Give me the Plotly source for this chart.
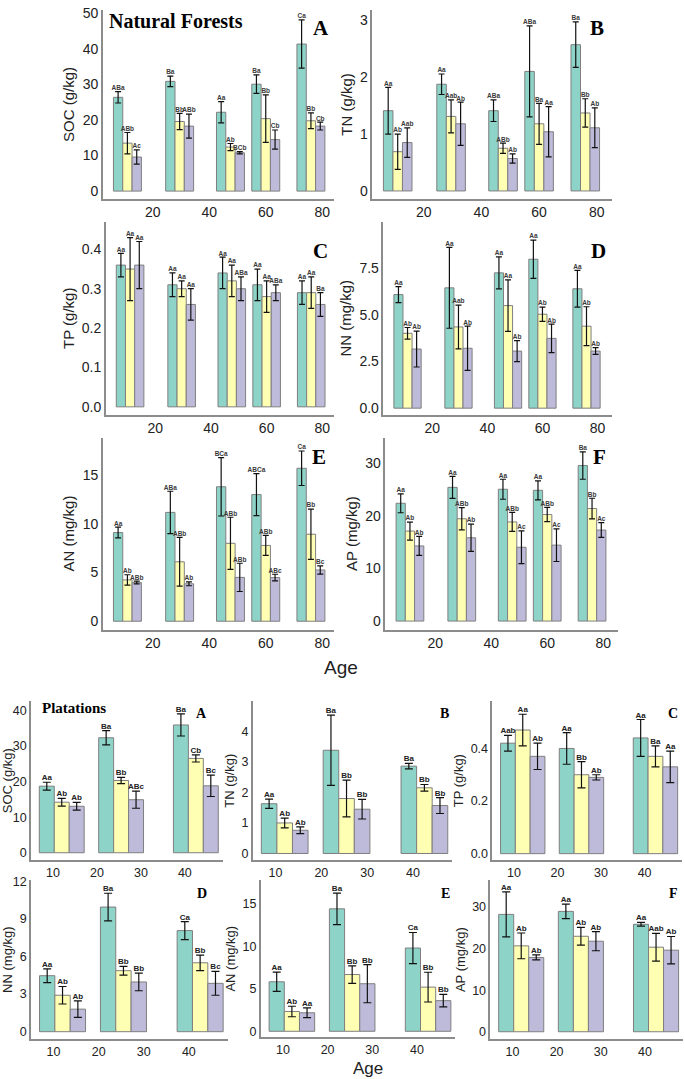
import plotly.graph_objects as go

W, H = 685, 1079

# treatment colours (ggplot Set3 style)
colors = ["#8dd3c7", "#ffffb3", "#bebada"]

# ---------------- Natural forests ----------------
nf_age = [11, 29.5, 47.5, 60, 76]
nf_ticks = [20, 40, 60, 80]

nf_soc = [[26.4, 30.9, 22.2, 30.1, 41.4], [13.5, 19.6, 12.4, 20.4, 19.8], [9.6, 18.3, 10.8, 14.5, 18.3]]
nf_soc_sd = [[1.6, 1.5, 3.0, 2.6, 6.8], [3.0, 2.3, 1.0, 6.7, 2.2], [2.0, 3.4, 0.3, 2.7, 1.1]]
nf_soc_lab = [["ABa", "Ba", "Aa", "Ba", "Ca"], ["ABb", "Bb", "Ab", "Bb", "Bb"], ["Ac", "ABb", "BCb", "Cb", "Cb"]]

nf_tn = [[1.41, 1.875, 1.41, 2.1, 2.57], [0.69, 1.31, 0.75, 1.18, 1.37], [0.85, 1.18, 0.57, 1.04, 1.11]]
nf_tn_sd = [[0.41, 0.18, 0.19, 0.8, 0.4], [0.31, 0.29, 0.09, 0.36, 0.25], [0.26, 0.38, 0.08, 0.44, 0.35]]
nf_tn_lab = [["Aa", "Aa", "ABa", "ABa", "Ba"], ["Ab", "Aab", "ABb", "Ba", "Bb"], ["Aab", "Ab", "Ab", "Aa", "Ab"]]

nf_tp = [[0.36, 0.31, 0.34, 0.31, 0.29], [0.35, 0.30, 0.32, 0.28, 0.29], [0.36, 0.26, 0.30, 0.29, 0.26]]
nf_tp_sd = [[0.03, 0.03, 0.04, 0.04, 0.03], [0.08, 0.02, 0.04, 0.04, 0.04], [0.06, 0.04, 0.03, 0.02, 0.03]]
nf_tp_lab = [["Aa", "Aa", "Aa", "Aa", "Aa"], ["Aa", "Aa", "Aa", "Aa", "Aa"], ["Aa", "Aa", "ABa", "ABa", "Ba"]]

nf_nn = [[6.07, 6.43, 7.23, 7.96, 6.38], [4.0, 4.34, 5.48, 5.02, 4.38], [3.16, 3.2, 3.05, 3.73, 3.05]]
nf_nn_sd = [[0.43, 2.16, 0.86, 1.02, 0.98], [0.31, 1.17, 1.38, 0.38, 1.04], [0.96, 1.18, 0.56, 0.76, 0.18]]
nf_nn_lab = [["Aa", "Aa", "Aa", "Aa", "Aa"], ["Ab", "Aab", "Aa", "Ab", "Ab"], ["Ab", "Ab", "Ab", "Ab", "Ab"]]

nf_an = [[9.1, 11.17, 13.8, 13.0, 15.7], [4.24, 6.1, 8.0, 7.78, 8.93], [3.97, 3.84, 4.5, 4.48, 5.26]]
nf_an_sd = [[0.55, 2.17, 3.0, 2.16, 1.77], [0.53, 2.5, 2.67, 1.03, 2.58], [0.14, 0.2, 1.45, 0.34, 0.43]]
nf_an_lab = [["Aa", "ABa", "BCa", "ABCa", "Ca"], ["Ab", "ABb", "ABb", "ABb", "Bb"], ["ABb", "Ab", "ABb", "ABc", "Bc"]]

nf_ap = [[22.34, 25.36, 25.0, 24.8, 29.5], [17.07, 19.4, 18.8, 20.2, 21.34], [14.25, 15.8, 14.0, 14.4, 17.26]]
nf_ap_sd = [[1.8, 2.1, 1.9, 1.8, 2.6], [1.7, 2.1, 1.8, 1.35, 1.95], [1.8, 2.6, 3.1, 3.1, 1.4]]
nf_ap_lab = [["Aa", "Aa", "Aa", "Aa", "Ba"], ["Ab", "ABb", "ABb", "ABb", "Bb"], ["Ab", "Ab", "Ac", "Ac", "Ac"]]

# ---------------- Plantations ----------------
pl_age = [12, 25.5, 42.5]
pl_ticks = [10, 20, 30, 40]

pl_soc = [[18.7, 32.3, 35.9], [14.2, 20.3, 26.5], [13.05, 14.9, 18.8]]
pl_soc_sd = [[1.1, 2.0, 3.1], [1.1, 0.9, 1.0], [1.1, 2.4, 3.0]]
pl_soc_lab = [["Aa", "Ba", "Ba"], ["Ab", "Bb", "Cb"], ["Ab", "ABc", "Bc"]]

pl_tn = [[1.63, 3.38, 2.86], [1.0, 1.8, 2.15], [0.76, 1.45, 1.57]]
pl_tn_sd = [[0.15, 1.15, 0.09], [0.16, 0.6, 0.11], [0.11, 0.32, 0.26]]
pl_tn_lab = [["Aa", "Ba", "Ba"], ["Ab", "Bb", "Bb"], ["Ab", "Bb", "Bb"]]

pl_tp = [[0.42, 0.40, 0.44], [0.47, 0.30, 0.37], [0.37, 0.29, 0.33]]
pl_tp_sd = [[0.03, 0.06, 0.07], [0.06, 0.05, 0.04], [0.05, 0.01, 0.06]]
pl_tp_lab = [["Aab", "Aa", "Aa"], ["Aa", "Bb", "Ba"], ["Ab", "Ab", "Aa"]]

pl_nn = [[4.47, 9.95, 8.07], [2.91, 4.87, 5.5], [1.8, 3.97, 3.86]]
pl_nn_sd = [[0.55, 1.1, 0.72], [0.7, 0.35, 0.62], [0.66, 0.7, 0.95]]
pl_nn_lab = [["Aa", "Ba", "Ca"], ["Ab", "Bb", "Bb"], ["Ab", "Bb", "Bc"]]

pl_an = [[5.83, 14.42, 9.8], [2.33, 6.68, 5.2], [2.18, 5.6, 3.61]]
pl_an_sd = [[1.13, 1.85, 1.83], [0.62, 1.03, 1.75], [0.58, 2.24, 0.73]]
pl_an_lab = [["Aa", "Ba", "Ca"], ["Ab", "Bb", "Bb"], ["Aa", "Bb", "Bb"]]

pl_ap = [[28.25, 28.97, 25.86], [20.67, 22.98, 20.35], [17.88, 21.79, 19.63]]
pl_ap_sd = [[5.4, 1.75, 0.45], [3.1, 2.15, 3.35], [0.6, 2.3, 3.3]]
pl_ap_lab = [["Aa", "Aa", "Aa"], ["Ab", "Ab", "Aab"], ["Ab", "Ab", "Ab"]]


def xdom(a, b):
    return [a / W, b / W]


def ydom(top, bottom):
    return [1 - bottom / H, 1 - top / H]


fig = go.Figure()
layout = {}
n = 0


def note(x, y, text, size, family="Liberation Sans", xanchor="center", color="black"):
    fig.add_annotation(x=x / W, y=1 - y / H, xref="paper", yref="paper",
                       xanchor=xanchor, yanchor="middle", text=text, showarrow=False,
                       font=dict(family=family, size=size, color=color))


def panel(ages, means, sds, labels, xd, yd, xr, yr, yticks, ytitle, xticks,
          letter, lpos, big=True, yfmt=None):
    global n
    n += 1
    xa, ya = "x%d" % n, "y%d" % n
    w = 3.3 if big else 3.4
    for i in range(3):
        fig.add_trace(go.Bar(
            x=ages, y=means[i], width=w, offset=(i - 1.5) * w,
            marker=dict(color=colors[i], line=dict(color="#7f7f7f", width=1)),
            error_y=dict(type="data", array=sds[i], color="#111", thickness=1.2,
                         width=3 if big else 4),
            xaxis=xa, yaxis=ya, showlegend=False))
        fig.add_trace(go.Scatter(
            x=[a + (i - 1) * w for a in ages],
            y=[m + s for m, s in zip(means[i], sds[i])],
            mode="text", text=labels[i], textposition="top center",
            textfont=dict(size=6.5 if big else 8, color="#3a3a3a" if big else "#222",
                          family="Liberation Sans", weight="bold"),
            xaxis=xa, yaxis=ya, showlegend=False, hoverinfo="skip"))
    tf = 14 if big else 12.5
    layout["xaxis%d" % n] = dict(
        domain=xdom(*xd), anchor=ya, range=xr, tickvals=xticks,
        showline=True, linecolor="#8c8c8c", linewidth=1.5, showgrid=False,
        zeroline=False, ticks="", tickfont=dict(size=tf, color="#222"))
    yax = dict(
        domain=ydom(*yd), anchor=xa, range=yr, tickvals=yticks,
        showline=True, linecolor="#8c8c8c", linewidth=1.5, showgrid=False,
        zeroline=False, ticks="", tickfont=dict(size=tf, color="#222"),
        title=dict(text=ytitle, font=dict(size=15 if big else 13, color="#222"),
                   standoff=4))
    if yfmt:
        yax["tickformat"] = yfmt
    layout["yaxis%d" % n] = yax
    note(lpos[0], lpos[1], "<b>%s</b>" % letter, 21 if big else 14, "Liberation Serif")


# Natural forests (3 rows x 2 cols)
nfl = [2.3, 84]
nfr = [2.25, 85.3]
panel(nf_age, nf_soc, nf_soc_sd, nf_soc_lab, (102, 333), (5, 195), nfl, [-2.2, 51],
      [0, 10, 20, 30, 40, 50], "SOC (g/kg)", nf_ticks, "A", (320, 23))
panel(nf_age, nf_tn, nf_tn_sd, nf_tn_lab, (372, 612), (5, 195), nfr, [-0.14, 3.18],
      [0, 1, 2, 3], "TN (g/kg)", nf_ticks, "B", (597, 23))
panel(nf_age, nf_tp, nf_tp_sd, nf_tp_lab, (105, 333), (218, 412), nfl, [-0.02, 0.47],
      [0, 0.1, 0.2, 0.3, 0.4], "TP (g/kg)", nf_ticks, "C", (320, 247), yfmt=".1f")
panel(nf_age, nf_nn, nf_nn_sd, nf_nn_lab, (383, 612), (218, 412), nfr, [-0.35, 9.96],
      [0, 2.5, 5, 7.5], "NN (mg/kg)", nf_ticks, "D", (598, 247), yfmt=".1f")
panel(nf_age, nf_an, nf_an_sd, nf_an_lab, (102, 333), (435, 628), nfl, [-0.85, 18.85],
      [0, 5, 10, 15], "AN (mg/kg)", nf_ticks, "E", (318, 455))
panel(nf_age, nf_ap, nf_ap_sd, nf_ap_lab, (385, 618), (435, 628), nfr, [-1.6, 34.8],
      [0, 10, 20, 30], "AP (mg/kg)", nf_ticks, "F", (599, 455))

# Plantations (2 rows x 3 cols)
plr = [5, 48.6]
panel(pl_age, pl_soc, pl_soc_sd, pl_soc_lab, (30, 222), (700, 860), plr, [-2.1, 42.6],
      [0, 10, 20, 30, 40], "SOC (g/kg)", pl_ticks, "A", (201, 712), big=False)
panel(pl_age, pl_tn, pl_tn_sd, pl_tn_lab, (252, 452), (700, 860), plr, [-0.22, 4.99],
      [0, 1, 2, 3, 4], "TN (g/kg)", pl_ticks, "B", (444, 712), big=False)
panel(pl_age, pl_tp, pl_tp_sd, pl_tp_lab, (492, 682), (700, 860), plr, [-0.025, 0.58],
      [0, 0.2, 0.4], "TP (g/kg)", pl_ticks, "C", (673, 712), big=False, yfmt=".1f")
panel(pl_age, pl_nn, pl_nn_sd, pl_nn_lab, (30, 227), (880, 1040), plr, [-0.6, 12.1],
      [0, 3, 6, 9, 12], "NN (mg/kg)", pl_ticks, "D", (201, 893), big=False)
panel(pl_age, pl_an, pl_an_sd, pl_an_lab, (260, 455), (880, 1038), plr, [-0.7, 17.8],
      [0, 5, 10, 15], "AN (mg/kg)", pl_ticks, "E", (445, 893), big=False)
panel(pl_age, pl_ap, pl_ap_sd, pl_ap_lab, (490, 683), (880, 1040), plr, [-1.8, 36.5],
      [0, 10, 20, 30], "AP (mg/kg)", pl_ticks, "F", (673, 893), big=False)

# section titles and shared x titles
note(106, 16, "<b>Natural Forests</b>", 20, "Liberation Serif", xanchor="left")
note(39, 707, "<b>Platations</b>", 15, "Liberation Serif", xanchor="left")
note(340, 666, "Age", 19, color="#222")
note(368, 1069, "Age", 17, color="#222")

fig.update_layout(
    width=W, height=H, margin=dict(l=0, r=0, t=0, b=0),
    paper_bgcolor="white", plot_bgcolor="white", barmode="overlay",
    font=dict(family="Liberation Sans"),
    **layout)

fig.write_html("out.html", config={"displayModeBar": False},
               post_script="document.body.style.margin='0';document.body.style.overflow='hidden';")
